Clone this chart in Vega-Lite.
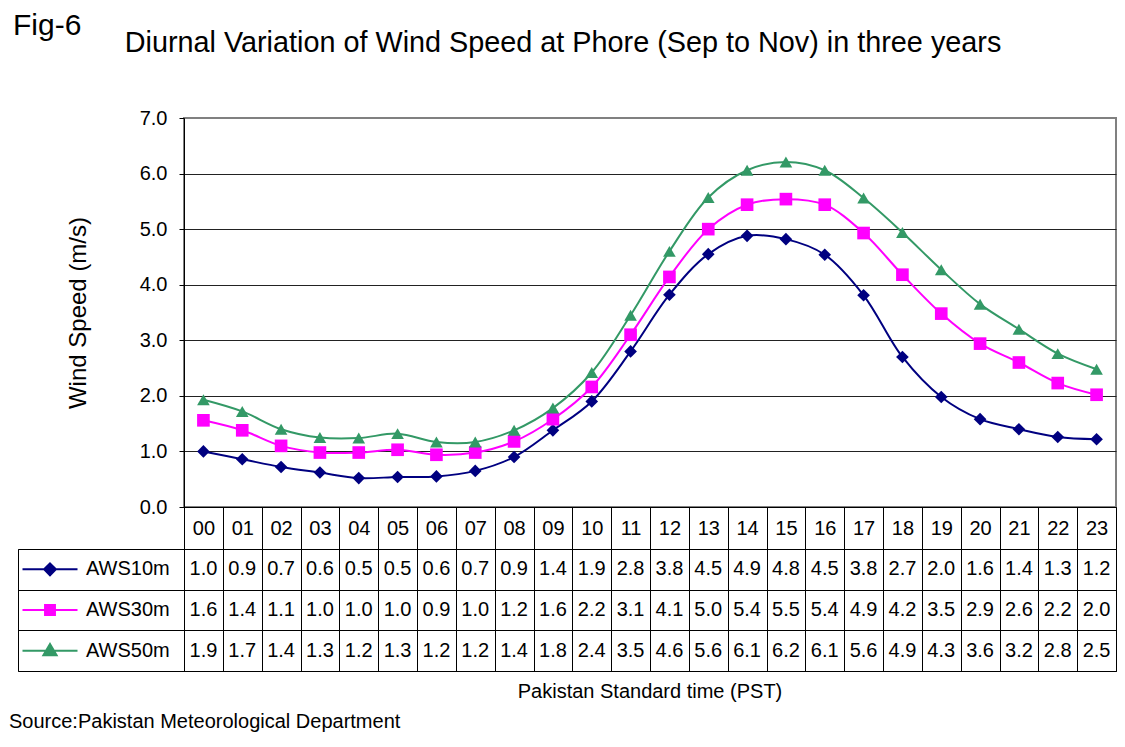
{
  "$schema": "https://vega.github.io/schema/vega-lite/v6.json",
  "padding": {"left": 8, "top": 11, "right": 5, "bottom": 5},
  "background": "white",
  "config": {
    "font": "Liberation Sans",
    "view": {"stroke": null},
    "axis": {"labelFont": "Liberation Sans", "titleFont": "Liberation Sans", "labelColor": "black", "titleColor": "black", "titleFontWeight": "normal"},
    "title": {"font": "Liberation Sans", "fontWeight": "normal", "color": "black"}
  },
  "datasets": {
    "s": [{"series": "AWS10m"}, {"series": "AWS30m"}, {"series": "AWS50m"}],
    "d": [
      {"hour": "00", "series": "AWS10m", "speed": 1.00, "label": "1.0"},
      {"hour": "01", "series": "AWS10m", "speed": 0.86, "label": "0.9"},
      {"hour": "02", "series": "AWS10m", "speed": 0.72, "label": "0.7"},
      {"hour": "03", "series": "AWS10m", "speed": 0.62, "label": "0.6"},
      {"hour": "04", "series": "AWS10m", "speed": 0.52, "label": "0.5"},
      {"hour": "05", "series": "AWS10m", "speed": 0.54, "label": "0.5"},
      {"hour": "06", "series": "AWS10m", "speed": 0.55, "label": "0.6"},
      {"hour": "07", "series": "AWS10m", "speed": 0.65, "label": "0.7"},
      {"hour": "08", "series": "AWS10m", "speed": 0.90, "label": "0.9"},
      {"hour": "09", "series": "AWS10m", "speed": 1.38, "label": "1.4"},
      {"hour": "10", "series": "AWS10m", "speed": 1.90, "label": "1.9"},
      {"hour": "11", "series": "AWS10m", "speed": 2.80, "label": "2.8"},
      {"hour": "12", "series": "AWS10m", "speed": 3.82, "label": "3.8"},
      {"hour": "13", "series": "AWS10m", "speed": 4.55, "label": "4.5"},
      {"hour": "14", "series": "AWS10m", "speed": 4.88, "label": "4.9"},
      {"hour": "15", "series": "AWS10m", "speed": 4.82, "label": "4.8"},
      {"hour": "16", "series": "AWS10m", "speed": 4.54, "label": "4.5"},
      {"hour": "17", "series": "AWS10m", "speed": 3.81, "label": "3.8"},
      {"hour": "18", "series": "AWS10m", "speed": 2.70, "label": "2.7"},
      {"hour": "19", "series": "AWS10m", "speed": 1.98, "label": "2.0"},
      {"hour": "20", "series": "AWS10m", "speed": 1.58, "label": "1.6"},
      {"hour": "21", "series": "AWS10m", "speed": 1.40, "label": "1.4"},
      {"hour": "22", "series": "AWS10m", "speed": 1.26, "label": "1.3"},
      {"hour": "23", "series": "AWS10m", "speed": 1.22, "label": "1.2"},
      {"hour": "00", "series": "AWS30m", "speed": 1.56, "label": "1.6"},
      {"hour": "01", "series": "AWS30m", "speed": 1.38, "label": "1.4"},
      {"hour": "02", "series": "AWS30m", "speed": 1.10, "label": "1.1"},
      {"hour": "03", "series": "AWS30m", "speed": 0.98, "label": "1.0"},
      {"hour": "04", "series": "AWS30m", "speed": 0.98, "label": "1.0"},
      {"hour": "05", "series": "AWS30m", "speed": 1.03, "label": "1.0"},
      {"hour": "06", "series": "AWS30m", "speed": 0.94, "label": "0.9"},
      {"hour": "07", "series": "AWS30m", "speed": 0.98, "label": "1.0"},
      {"hour": "08", "series": "AWS30m", "speed": 1.18, "label": "1.2"},
      {"hour": "09", "series": "AWS30m", "speed": 1.58, "label": "1.6"},
      {"hour": "10", "series": "AWS30m", "speed": 2.16, "label": "2.2"},
      {"hour": "11", "series": "AWS30m", "speed": 3.10, "label": "3.1"},
      {"hour": "12", "series": "AWS30m", "speed": 4.14, "label": "4.1"},
      {"hour": "13", "series": "AWS30m", "speed": 5.00, "label": "5.0"},
      {"hour": "14", "series": "AWS30m", "speed": 5.44, "label": "5.4"},
      {"hour": "15", "series": "AWS30m", "speed": 5.54, "label": "5.5"},
      {"hour": "16", "series": "AWS30m", "speed": 5.44, "label": "5.4"},
      {"hour": "17", "series": "AWS30m", "speed": 4.93, "label": "4.9"},
      {"hour": "18", "series": "AWS30m", "speed": 4.18, "label": "4.2"},
      {"hour": "19", "series": "AWS30m", "speed": 3.48, "label": "3.5"},
      {"hour": "20", "series": "AWS30m", "speed": 2.94, "label": "2.9"},
      {"hour": "21", "series": "AWS30m", "speed": 2.60, "label": "2.6"},
      {"hour": "22", "series": "AWS30m", "speed": 2.23, "label": "2.2"},
      {"hour": "23", "series": "AWS30m", "speed": 2.02, "label": "2.0"},
      {"hour": "00", "series": "AWS50m", "speed": 1.93, "label": "1.9"},
      {"hour": "01", "series": "AWS50m", "speed": 1.72, "label": "1.7"},
      {"hour": "02", "series": "AWS50m", "speed": 1.40, "label": "1.4"},
      {"hour": "03", "series": "AWS50m", "speed": 1.25, "label": "1.3"},
      {"hour": "04", "series": "AWS50m", "speed": 1.24, "label": "1.2"},
      {"hour": "05", "series": "AWS50m", "speed": 1.32, "label": "1.3"},
      {"hour": "06", "series": "AWS50m", "speed": 1.17, "label": "1.2"},
      {"hour": "07", "series": "AWS50m", "speed": 1.17, "label": "1.2"},
      {"hour": "08", "series": "AWS50m", "speed": 1.38, "label": "1.4"},
      {"hour": "09", "series": "AWS50m", "speed": 1.78, "label": "1.8"},
      {"hour": "10", "series": "AWS50m", "speed": 2.42, "label": "2.4"},
      {"hour": "11", "series": "AWS50m", "speed": 3.45, "label": "3.5"},
      {"hour": "12", "series": "AWS50m", "speed": 4.60, "label": "4.6"},
      {"hour": "13", "series": "AWS50m", "speed": 5.57, "label": "5.6"},
      {"hour": "14", "series": "AWS50m", "speed": 6.06, "label": "6.1"},
      {"hour": "15", "series": "AWS50m", "speed": 6.21, "label": "6.2"},
      {"hour": "16", "series": "AWS50m", "speed": 6.06, "label": "6.1"},
      {"hour": "17", "series": "AWS50m", "speed": 5.56, "label": "5.6"},
      {"hour": "18", "series": "AWS50m", "speed": 4.94, "label": "4.9"},
      {"hour": "19", "series": "AWS50m", "speed": 4.27, "label": "4.3"},
      {"hour": "20", "series": "AWS50m", "speed": 3.65, "label": "3.6"},
      {"hour": "21", "series": "AWS50m", "speed": 3.20, "label": "3.2"},
      {"hour": "22", "series": "AWS50m", "speed": 2.76, "label": "2.8"},
      {"hour": "23", "series": "AWS50m", "speed": 2.48, "label": "2.5"}
    ]
  },
  "columns": 2,
  "spacing": {"row": 42, "column": 0},
  "bounds": "flush",
  "resolve": {"scale": {"shape": "independent", "color": "independent", "stroke": "independent", "x": "independent", "y": "independent"}},
  "concat": [
    {
      "width": 166,
      "height": 389,
      "data": {"name": "s"},
      "title": {"text": "Fig-6", "fontSize": 30, "anchor": "start", "baseline": "alphabetic", "offset": 53, "dx": -5, "frame": "group"},
      "mark": {"type": "text"},
      "encoding": {"text": {"value": ""}}
    },
    {
      "width": 932,
      "height": 389,
      "view": {"stroke": "#808080", "strokeWidth": 2},
      "title": {"text": "Diurnal Variation of Wind Speed at Phore (Sep to Nov) in three years", "fontSize": 28.8, "anchor": "middle", "baseline": "alphabetic", "offset": 27, "dx": -87, "frame": "group"},
      "data": {"name": "d"},
      "encoding": {
        "x": {
          "field": "hour", "type": "ordinal", "bandPosition": 0.5,
          "scale": {"type": "band", "paddingInner": 0, "paddingOuter": 0},
          "axis": {"title": null, "tickBand": "extent", "tickSize": 42, "tickColor": "black", "domainColor": "black", "labelFontSize": 20, "labelBaseline": "middle", "labelPadding": -21, "labelAngle": 0, "grid": false}
        },
        "y": {
          "field": "speed", "type": "quantitative",
          "scale": {"domain": [0, 7]},
          "axis": {
            "title": "Wind Speed (m/s)", "titleFontSize": 24, "titlePadding": 49,
            "values": [0, 1, 2, 3, 4, 5, 6, 7], "format": ".1f",
            "labelFontSize": 20, "labelPadding": 12, "tickSize": 5, "tickColor": "black", "domainColor": "black",
            "grid": true, "gridOpacity": 1,
            "gridColor": {"condition": {"test": "datum.value == 7", "value": "#808080"}, "value": "#222222"}
          }
        },
        "color": {
          "field": "series", "type": "nominal",
          "scale": {"domain": ["AWS10m", "AWS30m", "AWS50m"], "range": ["#000080", "#FF00FF", "#339966"]},
          "legend": null
        }
      },
      "layer": [
        {"mark": {"type": "line", "interpolate": "catmull-rom", "strokeWidth": 2}},
        {
          "mark": {"type": "point", "filled": true, "opacity": 1, "size": 160},
          "encoding": {
            "shape": {
              "field": "series", "type": "nominal",
              "scale": {"domain": ["AWS10m", "AWS30m", "AWS50m"], "range": ["diamond", "square", "triangle-up"]},
              "legend": null
            }
          }
        }
      ]
    },
    {
      "width": 166,
      "height": 122,
      "view": {"stroke": "black"},
      "data": {"name": "s"},
      "title": {"text": "Source:Pakistan Meteorological Department", "orient": "bottom", "anchor": "start", "fontSize": 20, "baseline": "alphabetic", "offset": 57, "dx": -9, "frame": "group"},
      "encoding": {
        "y": {
          "field": "series", "type": "nominal", "bandPosition": 0.5,
          "scale": {"type": "band", "domain": ["AWS10m", "AWS30m", "AWS50m"], "paddingInner": 0, "paddingOuter": 0},
          "axis": {"title": null, "labels": false, "ticks": false, "domain": false, "grid": true, "tickBand": "extent", "gridColor": "black", "gridOpacity": 1}
        }
      },
      "layer": [
        {
          "mark": {"type": "point", "filled": true, "opacity": 1, "strokeWidth": 2, "size": 3025, "xOffset": -51},
          "encoding": {
            "color": {
              "field": "series", "type": "nominal",
              "scale": {"domain": ["AWS10m", "AWS30m", "AWS50m"], "range": ["#000080", "#FF00FF", "#339966"]},
              "legend": null
            },
            "stroke": {
              "field": "series", "type": "nominal",
              "scale": {"domain": ["AWS10m", "AWS30m", "AWS50m"], "range": ["#000080", "#FF00FF", "#339966"]},
              "legend": null
            },
            "shape": {
              "field": "series", "type": "nominal",
              "scale": {
                "domain": ["AWS10m", "AWS30m", "AWS50m"],
                "range": [
                  "M-1,0L1,0M0,-0.215L0.215,0L0,0.215L-0.215,0Z",
                  "M-1,0L1,0M-0.18,-0.18L0.18,-0.18L0.18,0.18L-0.18,0.18Z",
                  "M-1,0L1,0M0,-0.24L0.24,0.17L-0.24,0.17Z"
                ]
              },
              "legend": null
            }
          }
        },
        {
          "mark": {"type": "text", "fontSize": 20, "align": "left", "dx": -15, "color": "black"},
          "encoding": {"text": {"field": "series", "type": "nominal"}}
        }
      ]
    },
    {
      "width": 932,
      "height": 122,
      "view": {"stroke": "black"},
      "data": {"name": "d"},
      "title": {"text": "Pakistan Standard time (PST)", "orient": "bottom", "anchor": "middle", "fontSize": 20, "baseline": "alphabetic", "offset": 27, "frame": "group"},
      "mark": {"type": "text", "fontSize": 20, "color": "black"},
      "encoding": {
        "x": {
          "field": "hour", "type": "ordinal", "bandPosition": 0.5,
          "scale": {"type": "band", "paddingInner": 0, "paddingOuter": 0},
          "axis": {"title": null, "labels": false, "ticks": false, "domain": false, "grid": true, "tickBand": "extent", "gridColor": "black", "gridOpacity": 1}
        },
        "y": {
          "field": "series", "type": "nominal", "bandPosition": 0.5,
          "scale": {"type": "band", "domain": ["AWS10m", "AWS30m", "AWS50m"], "paddingInner": 0, "paddingOuter": 0},
          "axis": {"title": null, "labels": false, "ticks": false, "domain": false, "grid": true, "tickBand": "extent", "gridColor": "black", "gridOpacity": 1}
        },
        "text": {"field": "label", "type": "nominal"}
      }
    }
  ]
}
